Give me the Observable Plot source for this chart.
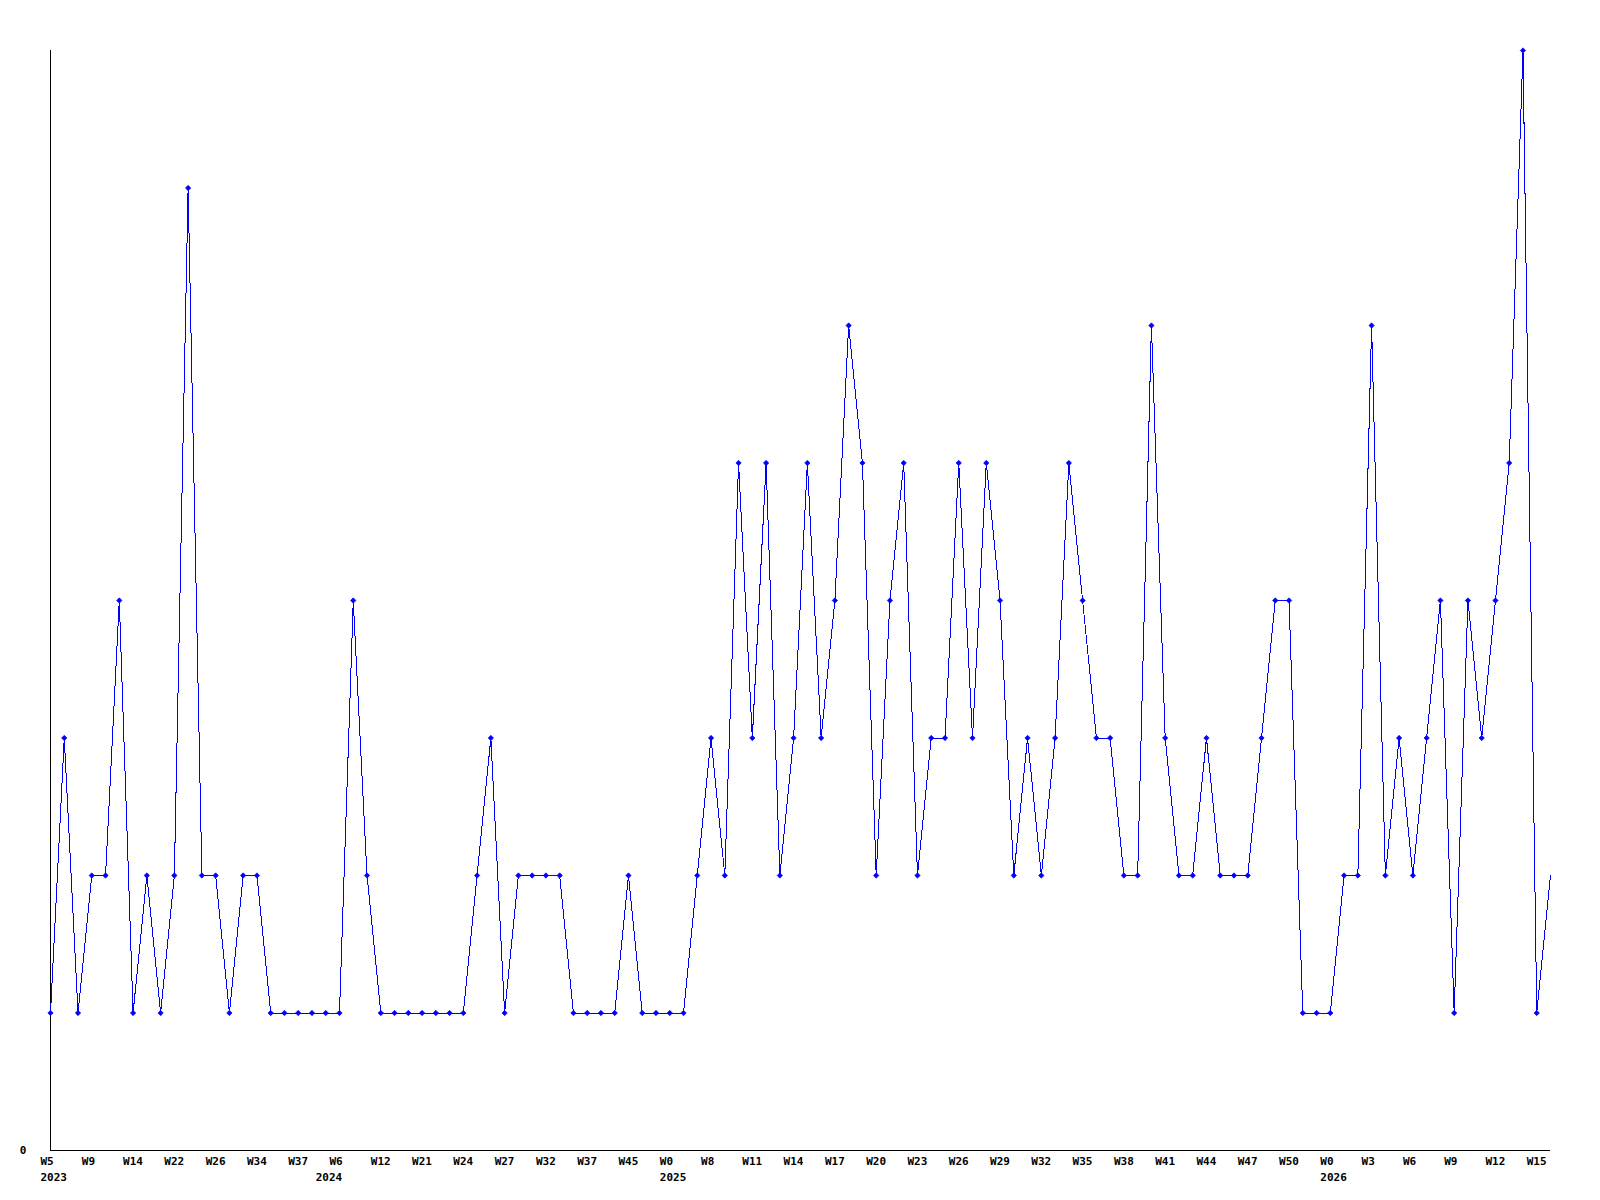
<!DOCTYPE html>
<html>
<head>
<meta charset="utf-8">
<script src="https://cdn.jsdelivr.net/npm/d3@7"></script>
<script src="https://cdn.jsdelivr.net/npm/@observablehq/plot@0.6"></script>
<style>
  html, body { margin: 0; padding: 0; background: #fff; }
  #chart svg { display: block; }
</style>
</head>
<body>
<div id="chart"></div>
<script>
// Weekly counts (one point per week with data)
const values = [
  1, 3, 1, 2, 2, 4, 1, 2, 1, 2,
  7, 2, 2, 1, 2, 2, 1, 1, 1, 1,
  1, 1, 4, 2, 1, 1, 1, 1, 1, 1,
  1, 2, 3, 1, 2, 2, 2, 2, 1, 1,
  1, 1, 2, 1, 1, 1, 1, 2, 3, 2,
  5, 3, 5, 2, 3, 5, 3, 4, 6, 5,
  2, 4, 5, 2, 3, 3, 5, 3, 5, 4,
  2, 3, 2, 3, 5, 4, 3, 3, 2, 2,
  6, 3, 2, 2, 3, 2, 2, 2, 3, 4,
  4, 1, 1, 1, 2, 2, 6, 2, 3, 2,
  3, 4, 1, 4, 3, 4, 5, 8, 1, 2
];

// Week tick labels: one for every third point
const tickWeeks = [
  "W5", "W9", "W14", "W22", "W26", "W34", "W37",
  "W6", "W12", "W21", "W24", "W27", "W32", "W37", "W45",
  "W0", "W8", "W11", "W14", "W17", "W20", "W23", "W26", "W29", "W32", "W35",
  "W38", "W41", "W44", "W47", "W50",
  "W0", "W3", "W6", "W9", "W12", "W15"
];
const tickStep = 3;

// Year labels, at the first point of each year
const yearLabels = ["2023", "2024", "2025", "2026"];
const yearFirstPoint = [0, 20, 45, 93];

const yLabels = ["0"];

const points = values.map((v, i) => ({i, v}));
const weekTicks = tickWeeks.map((w, k) => ({i: k * tickStep, label: w}));
const yearTicks = yearLabels.map((y, k) => ({i: yearFirstPoint[k], label: y}));
// the last (current, partial) week is drawn without a marker
const markerPoints = points.slice(0, -1);

const font = "'DejaVu Sans Mono', monospace";
const labelStyle = {
  textAnchor: "start", lineAnchor: "top", dx: -10,
  fontSize: 11, fontWeight: "bold", fill: "#000", fontFamily: font
};

const chart = Plot.plot({
  width: 1600,
  height: 1200,
  marginLeft: 50,
  marginRight: 50,
  marginTop: 50,
  marginBottom: 50,
  style: {fontFamily: font, background: "#fff"},
  x: {domain: [0, values.length - 1], axis: null},
  y: {domain: [0, 8], axis: null},
  marks: [
    Plot.ruleX([0], {stroke: "#000", strokeWidth: 1, shapeRendering: "crispEdges"}),
    Plot.ruleY([0], {stroke: "#000", strokeWidth: 1, shapeRendering: "crispEdges"}),
    Plot.line(points, {x: "i", y: "v", stroke: "#0000ff", strokeWidth: 1, shapeRendering: "crispEdges"}),
    Plot.dot(markerPoints, {x: "i", y: "v", symbol: "diamond2", r: 2.4, fill: "#0000ff", stroke: "#0000ff", strokeWidth: 0.7}),
    Plot.text(weekTicks, {x: "i", y: 0, text: "label", dy: 7, ...labelStyle}),
    Plot.text(yearTicks, {x: "i", y: 0, text: "label", dy: 22.5, ...labelStyle}),
    Plot.text(yLabels, {
      x: 0, y: 0, text: d => d,
      textAnchor: "middle", lineAnchor: "middle",
      dx: -27.5, dy: 0,
      fontSize: 11, fontWeight: "bold",
      fill: "#000", fontFamily: font
    })
  ]
});

document.getElementById("chart").appendChild(chart);
</script>
</body>
</html>
